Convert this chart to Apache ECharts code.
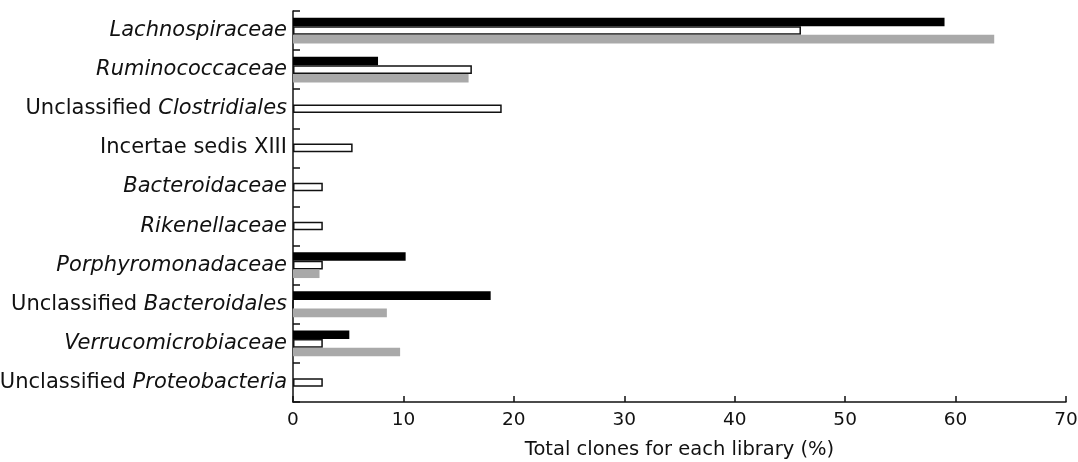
<!DOCTYPE html>
<html>
<head>
<meta charset="utf-8">
<script src="https://cdn.jsdelivr.net/npm/echarts@6/dist/echarts.min.js"></script>
<style>html,body{margin:0;padding:0;background:#fff}#c{width:1078px;height:462px}</style>
</head>
<body>
<div id="c"></div>
<script>
var categories = ['Lachnospiraceae','Ruminococcaceae','Unclassified Clostridiales','Incertae sedis XIII','Bacteroidaceae','Rikenellaceae','Porphyromonadaceae','Unclassified Bacteroidales','Verrucomicrobiaceae','Unclassified Proteobacteria'];
var seriesBlack = [59, 7.7, 0, 0, 0, 0, 10.2, 17.9, 5.1, 0];
var seriesWhite = [46, 16.2, 18.9, 5.4, 2.7, 2.7, 2.7, 0, 2.7, 2.7];
var seriesGray  = [63.5, 15.9, 0, 0, 0, 0, 2.4, 8.5, 9.7, 0];
var xTicks = [0, 10, 20, 30, 40, 50, 60, 70];
var plainTerms = ['Incertae sedis XIII'];

var FONT = 'DejaVu Sans';
var chart = echarts.init(document.getElementById('c'), null, {renderer: 'canvas'});
function fmt(v) {
  if (plainTerms.indexOf(v) >= 0) return v;
  if (v.indexOf('Unclassified ') === 0) return 'Unclassified {i|' + v.slice(13) + '}';
  return '{i|' + v + '}';
}
chart.setOption({
  animation: false,
  backgroundColor: '#fff',
  grid: {left: 293, right: 12, top: 11, bottom: 60, containLabel: false, outerBoundsMode: 'none'},
  xAxis: {
    type: 'value', min: xTicks[0], max: xTicks[xTicks.length - 1], interval: 10,
    name: 'Total clones for each library (%)', nameLocation: 'middle', nameGap: 38,
    nameTextStyle: {fontFamily: FONT, fontSize: 19.5, color: '#111'},
    axisLine: {show: true, lineStyle: {color: '#111', width: 1.5}},
    axisTick: {show: true, inside: true, length: 6, lineStyle: {color: '#111', width: 1.5}},
    axisLabel: {fontFamily: FONT, fontSize: 18.5, color: '#111', margin: 9},
    splitLine: {show: false}
  },
  yAxis: {
    type: 'category', data: categories, inverse: true,
    axisLine: {show: true, lineStyle: {color: '#111', width: 1.5}},
    axisTick: {show: true, inside: true, length: 7, lineStyle: {color: '#111', width: 1.5}},
    axisLabel: {
      fontFamily: FONT, fontSize: 21, color: '#111', margin: 6,
      formatter: fmt,
      rich: {i: {fontFamily: FONT, fontSize: 21, fontStyle: 'italic', color: '#111'}}
    },
    splitLine: {show: false}
  },
  series: [
    {type: 'bar', data: seriesBlack, barWidth: 8.6, barGap: '0%', itemStyle: {color: '#000'}},
    {type: 'bar', data: seriesWhite, barWidth: 8.6, barGap: '0%', itemStyle: {color: '#fff', borderColor: '#111', borderWidth: 1.5}},
    {type: 'bar', data: seriesGray, barWidth: 8.6, barGap: '0%', itemStyle: {color: '#a9a9a9'}}
  ]
});
</script>
</body>
</html>
